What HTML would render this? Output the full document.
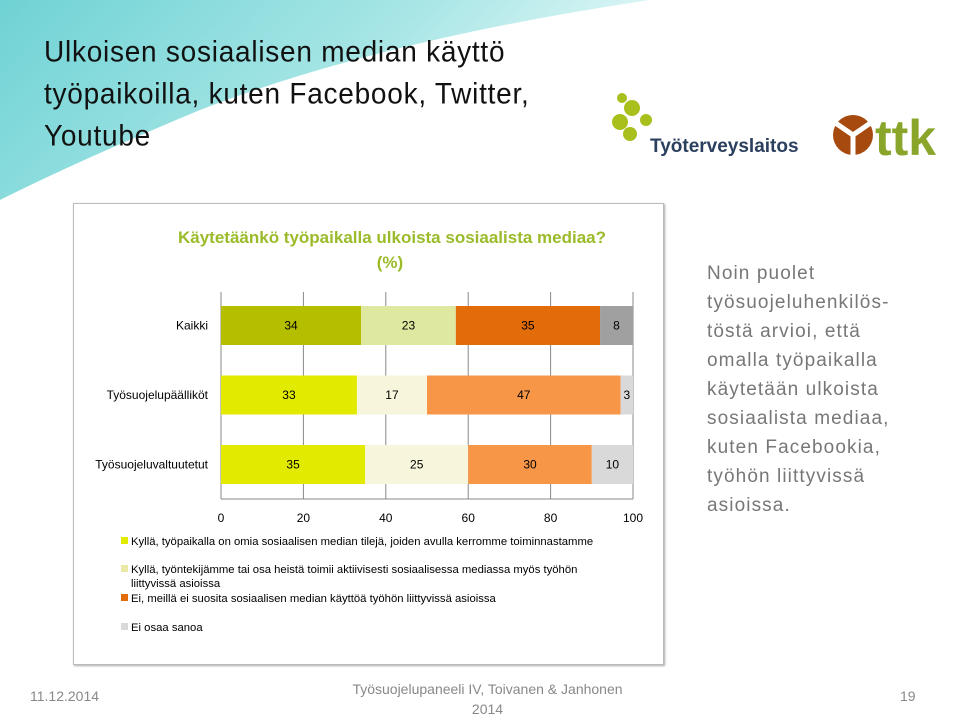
<!DOCTYPE html>
<html><head><meta charset="utf-8"><style>
body{margin:0;width:960px;height:714px;overflow:hidden;background:#fff;font-family:"Liberation Sans",sans-serif;position:relative}
.t{position:absolute}
</style></head><body>
<svg width="960" height="714" style="position:absolute;left:0;top:0">
<defs><linearGradient id="g" x1="0" y1="0" x2="1" y2="0.3"><stop offset="0" stop-color="#6fd2d4"/><stop offset="0.6" stop-color="#a8e6e6"/><stop offset="1" stop-color="#e6f8f8"/></linearGradient></defs>
<path d="M0,0 L650,0 Q380,40 200,110 Q80,160 0,200 Z" fill="url(#g)"/>
</svg>
<div class="t" style="left:44px;top:31px;font-size:28px;line-height:40px;color:#111;letter-spacing:0.75px;transform:scaleY(1.05);transform-origin:0 0">Ulkoisen sosiaalisen median käyttö<br>työpaikoilla, kuten Facebook, Twitter,<br>Youtube</div>
<svg class="t" style="left:610px;top:90px" width="350" height="75">
<g fill="#a9bf1c"><circle cx="12" cy="8" r="5"/><circle cx="22" cy="18" r="8"/><circle cx="10" cy="32" r="8"/><circle cx="36" cy="30" r="6"/><circle cx="20" cy="44" r="7"/></g>
<text x="40" y="62" font-size="19" fill="#2b3f5e" font-weight="bold" font-family="Liberation Sans, sans-serif">Työterveyslaitos</text>
<circle cx="243" cy="45" r="20" fill="#a64a10"/><path d="M243,45 L243,68 M243,45 L224,32 M243,45 L262,32" stroke="#fff" stroke-width="5"/>
<text x="265" y="65" font-size="50" font-weight="bold" fill="#8aa62a" font-family="Liberation Sans, sans-serif">ttk</text>
</svg>
<div class="t" style="left:73px;top:203px;width:589px;height:460px;border:1px solid #bbb;box-shadow:1px 1px 2px #aaa"></div>
<svg class="t" id="chart" style="left:0;top:0" width="960" height="714"></svg>
<div class="t" style="left:707px;top:259px;font-size:19px;line-height:29px;color:#777;letter-spacing:1.1px">Noin puolet<br>työsuojeluhenkilös-<br>töstä arvioi, että<br>omalla työpaikalla<br>käytetään ulkoista<br>sosiaalista mediaa,<br>kuten Facebookia,<br>työhön liittyvissä<br>asioissa.</div>
<div class="t" style="left:30px;top:688px;font-size:14px;color:#888">11.12.2014</div>
<div class="t" style="left:340px;top:679px;width:295px;text-align:center;font-size:14px;line-height:20px;color:#888">Työsuojelupaneeli IV, Toivanen &amp; Janhonen 2014</div>
<div class="t" style="left:900px;top:688px;font-size:14px;color:#888">19</div>
<script>
const categories=["Kaikki","Työsuojelupäälliköt","Työsuojeluvaltuutetut"];
const s1=[34,33,35];
const s2=[23,17,25];
const s3=[35,47,30];
const s4=[8,3,10];
const ticks=[0,20,40,60,80,100];
const legendLabels=[["Kyllä, työpaikalla on omia sosiaalisen median tilejä, joiden avulla kerromme toiminnastamme"],["Kyllä, työntekijämme tai osa heistä toimii aktiivisesti sosiaalisessa mediassa myös työhön","liittyvissä asioissa"],["Ei, meillä ei suosita sosiaalisen median käyttöä työhön liittyvissä asioissa"],["Ei osaa sanoa"]];
const colors=[["#b5bf00","#dfe8a0","#e36c0a","#a0a0a0"],["#e2ea00","#f7f5dc","#f79646","#d9d9d9"],["#e2ea00","#f7f5dc","#f79646","#d9d9d9"]];
const legColors=["#e2ea00","#ebe8a8","#e36c0a","#d9d9d9"];
const svg=document.getElementById('chart');const NS='http://www.w3.org/2000/svg';
const X0=221,X1=633,x=v=>X0+(X1-X0)*v/100;
const rowY=i=>306+i*69.5,BH=39;
function mk(t,a,p){const e=document.createElementNS(NS,t);for(const k in a)e.setAttribute(k,a[k]);(p||svg).appendChild(e);return e;}
const f='Liberation Sans, sans-serif';
let e=mk('text',{x:392,y:243,'text-anchor':'middle','font-size':17,'font-weight':'bold',fill:'#9bbb2a','font-family':f});e.textContent='Käytetäänkö työpaikalla ulkoista sosiaalista mediaa?';


e=mk('text',{x:390,y:268,'text-anchor':'middle','font-size':17,'font-weight':'bold',fill:'#9bbb2a','font-family':f});e.textContent='(%)';


ticks.forEach(t=>{
 const l=mk('line',{x1:x(t),x2:x(t),y1:292,y2:499,stroke:'#888','stroke-width':1});
 
 
 const tx=mk('text',{x:x(t),y:522,'text-anchor':'middle','font-size':12,fill:'#000','font-family':f});tx.textContent=t;
 
 
});
e=mk('line',{x1:X0,x2:X1,y1:499,y2:499,stroke:'#888'});


const series=[s1,s2,s3,s4];
categories.forEach((c,i)=>{
 const y=rowY(i);
 const lb=mk('text',{x:208,y:y+BH/2+4,'text-anchor':'end','font-size':12,fill:'#000','font-family':f});lb.textContent=c;
 
 
 let acc=0;
 series.forEach((s,j)=>{
  const v=s[i];
  const r=mk('rect',{x:x(acc),y:y,width:x(acc+v)-x(acc),height:BH,fill:colors[i][j]});
  
  
  const tv=mk('text',{x:(x(acc)+x(acc+v))/2,y:y+BH/2+4,'text-anchor':'middle','font-size':12,fill:'#000','font-family':f});tv.textContent=v;
  
  
  acc+=v;
 });
});
const legY=[545,573,602,631];
legendLabels.forEach((ls,i)=>{
 const r=mk('rect',{x:121,y:legY[i]-8,width:7,height:7,fill:legColors[i]});
 
 
 ls.forEach((t,k)=>{
  const tx=mk('text',{x:131,y:legY[i]+k*14,'font-size':11.3,fill:'#000','font-family':f});tx.textContent=t;
  
  
 });
});
</script>
</body></html>
